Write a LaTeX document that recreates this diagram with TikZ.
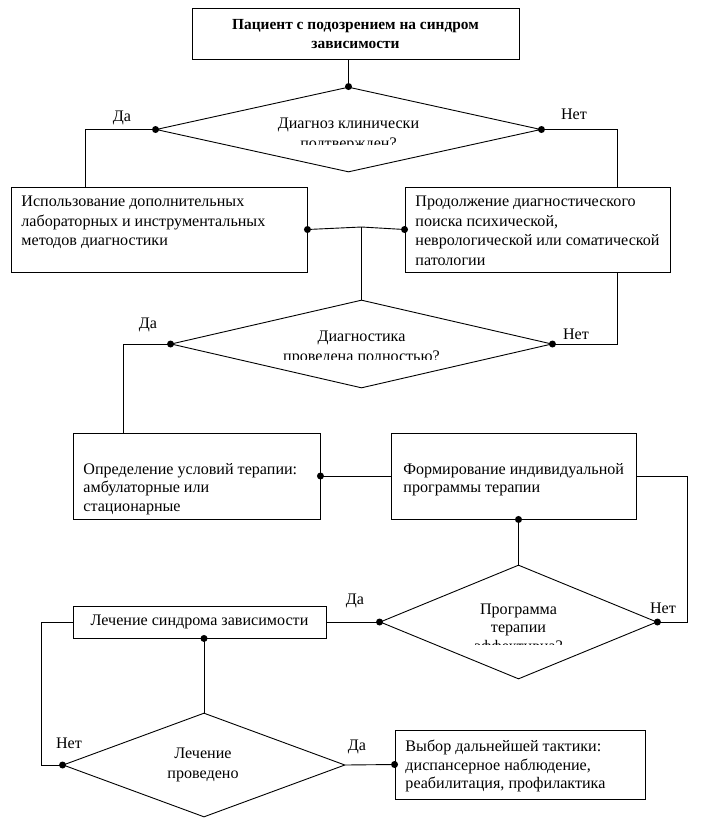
\documentclass[tikz,border=0pt]{standalone}
\usepackage{fontspec}
\setmainfont{Liberation Serif}
\usetikzlibrary{shapes.geometric,calc}
\begin{document}
\begin{tikzpicture}[x=1pt,y=-1pt,
  font=\fontsize{16.1}{19.5}\selectfont,
  line width=0.9pt,
  box/.style={draw, rectangle, inner sep=0pt},
  dmd/.style={draw, diamond, inner sep=0pt},
  dot/.style={circle, fill=black, inner sep=0pt, minimum size=7pt},
  lbl/.style={inner sep=0pt},
  txt/.style={inner sep=0pt, align=left, anchor=north west},
  dtxt/.style={inner sep=0pt, align=center, anchor=north}]
\useasboundingbox (0,0) rectangle (715,839);

% boxes
\node[box, minimum width=327pt, minimum height=51pt, align=center, font=\fontsize{15.4}{19}\selectfont\bfseries] (top) at (355.5,34) {Пациент с подозрением на синдром\\зависимости};
\node[box, minimum width=296pt, minimum height=85pt] (A) at (159,229.5) {};
\node[box, minimum width=265pt, minimum height=85pt] (B) at (537.5,229.5) {};
\node[box, minimum width=247pt, minimum height=86pt] (C) at (196.5,476) {};
\node[box, minimum width=245pt, minimum height=86pt] (D) at (513.5,476) {};
\node[box, minimum width=253pt, minimum height=32pt] (E) at (199.5,622) {Лечение синдрома зависимости};
\node[box, minimum width=250pt, minimum height=69pt] (F) at (520,764.5) {};

% diamonds
\node[dmd, minimum width=385pt, minimum height=85pt] (d1) at (348.5,129.5) {};
\node[dmd, minimum width=381pt, minimum height=88pt] (d2) at (361.5,344) {};
\node[dmd, minimum width=277pt, minimum height=114pt] (d3) at (518.5,622) {};
\node[dmd, minimum width=282pt, minimum height=104pt] (d4) at (204,765) {};

% box texts
\node[txt] (tA) at (21,196) {Использование дополнительных\\лабораторных и инструментальных\\методов диагностики};
\node[txt] (tB) at (415,196) {Продолжение диагностического\\поиска психической,\\неврологической или соматической\\патологии};
\node[txt, font=\fontsize{16.1}{18.5}\selectfont] (tC) at (83,463) {Определение условий терапии:\\амбулаторные или\\стационарные};
\node[txt, font=\fontsize{16.1}{18.5}\selectfont] (tD) at (403,463) {Формирование индивидуальной\\программы терапии};
\node[txt, font=\fontsize{16.1}{18.5}\selectfont] (tF) at (405,740) {Выбор дальнейшей тактики:\\диспансерное наблюдение,\\реабилитация, профилактика};

% diamond texts (clipped as in the reference)
\begin{scope}
  \clip (150,100) rectangle (550,144);
  \node[dtxt] (t1) at (348.5,118) {Диагноз клинически\\подтвержден?};
\end{scope}
\begin{scope}
  \clip (170,310) rectangle (550,359);
  \node[dtxt] (t2) at (361.5,331) {Диагностика\\проведена полностью?};
\end{scope}
\begin{scope}
  \clip (380,590) rectangle (650,644);
  \node[dtxt, font=\fontsize{16.1}{18.5}\selectfont] (t3) at (518.5,603) {Программа\\терапии\\эффективна?};
\end{scope}
\node[dtxt, font=\fontsize{16.1}{20}\selectfont] (t4) at (203,747) {Лечение\\проведено};

% labels
\node[lbl] (l1) at (122,118) {Да};
\node[lbl] (l2) at (574,114) {Нет};
\node[lbl] (l3) at (148,325) {Да};
\node[lbl] (l4) at (576,334) {Нет};
\node[lbl] (l5) at (355,601) {Да};
\node[lbl] (l6) at (663,608) {Нет};
\node[lbl] (l7) at (69,743) {Нет};
\node[lbl] (l8) at (357,747) {Да};

% helper coordinates
\coordinate (J) at (361.5,227);
\coordinate (R3) at (687,476);
\coordinate (L4) at (41,622);

% connectors
\draw (top.south -| d1.north) -- (d1.north);
\draw (d1.west) -| ($(A.north west)+(75,0)$);
\draw (d1.east) -| ($(B.north west)+(213,0)$);
\draw (A.east) -- (J) -- (B.west);
\draw (J) -- (d2.north);
\draw ($(B.south west)+(213,0)$) |- (d2.east);
\draw (d2.west) -| ($(C.north west)+(51,0)$);
\draw (D.west) -- (C.east);
\draw (D.east) -- (R3) |- (d3.east);
\draw (d3.north |- D.south) -- (d3.north);
\draw (E.east) -- (d3.west);
\draw (E.south -| d4.north) -- (d4.north);
\draw (E.west) -- (L4) |- (d4.west);
\draw (d4.east) -- (F.west);

% dots
\node[dot] (p1) at (d1.north) {};
\node[dot] (p2) at (d1.west) {};
\node[dot] (p3) at (d1.east) {};
\node[dot] (p4) at (A.east) {};
\node[dot] (p5) at (B.west) {};
\node[dot] (p6) at (d2.west) {};
\node[dot] (p7) at (d2.east) {};
\node[dot] (p8) at (C.east) {};
\node[dot] (p9) at (d3.north |- D.south) {};
\node[dot] (p10) at (d3.west) {};
\node[dot] (p11) at (d3.east) {};
\node[dot] (p12) at (E.south -| d4.north) {};
\node[dot] (p13) at (d4.west) {};
\node[dot] (p14) at (F.west) {};
\end{tikzpicture}
\end{document}
